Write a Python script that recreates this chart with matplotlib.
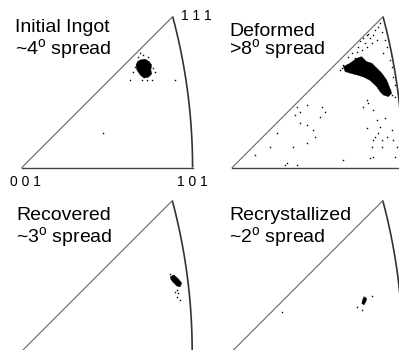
#Inverse pole figures (001-101-111 standard triangle) for four material states
import numpy as np
import matplotlib
matplotlib.use("Agg")
from matplotlib import pyplot as plt
from matplotlib.patches import Polygon

plt.rcParams['font.family'] = ['Liberation Sans', 'DejaVu Sans']
plt.rcParams['mathtext.fontset'] = 'custom'
plt.rcParams['mathtext.rm'] = 'Liberation Sans'

#Figure size in pixels and stereographic scale (px per projection unit)
W, H = 399, 350
SCALE = 412

#Corner labels of the standard triangle
corner_labels = ["0 0 1", "1 0 1", "1 1 1"]

#Panel titles
titles = ["Initial Ingot", "Deformed", "Recovered", "Recrystallized"]
spreads = ["~4", ">8", "~3", "~2"]

#Initial ingot: dense blob outline + stray points (projection coords)
ingot_blob_x = [0.287, 0.299, 0.309, 0.315, 0.313, 0.315, 0.307, 0.296, 0.287, 0.279, 0.277, 0.281]
ingot_blob_y = [0.261, 0.263, 0.257, 0.249, 0.237, 0.227, 0.219, 0.217, 0.225, 0.237, 0.249, 0.257]
ingot_dots_x = [0.287, 0.295, 0.283, 0.307, 0.275, 0.270, 0.303, 0.315, 0.262, 0.319, 0.372, 0.198, 0.291, 0.323]
ingot_dots_y = [0.277, 0.273, 0.269, 0.269, 0.245, 0.233, 0.212, 0.212, 0.212, 0.241, 0.212, 0.083, 0.212, 0.233]

#Deformed: elongated blob + lots of scattered points
deformed_blob_x = [0.270, 0.286, 0.302, 0.314, 0.326, 0.339, 0.351, 0.363, 0.375, 0.383,
                   0.387, 0.379, 0.367, 0.359, 0.351, 0.334, 0.318, 0.302, 0.286, 0.274]
deformed_blob_y = [0.245, 0.253, 0.265, 0.269, 0.257, 0.253, 0.241, 0.229, 0.212, 0.192,
                   0.180, 0.172, 0.176, 0.184, 0.196, 0.212, 0.220, 0.225, 0.229, 0.233]
deformed_dots_x = [0.310, 0.318, 0.326, 0.330, 0.334, 0.322, 0.306, 0.302, 0.290, 0.282,
                   0.270, 0.278, 0.266, 0.290, 0.298, 0.314, 0.326, 0.339, 0.342, 0.351,
                   0.347, 0.355, 0.359, 0.363, 0.371, 0.375, 0.367, 0.383, 0.387, 0.391,
                   0.395, 0.383, 0.375, 0.387, 0.395, 0.262,
                   0.157, 0.165, 0.152, 0.181, 0.217, 0.225, 0.213, 0.165, 0.181, 0.197,
                   0.201, 0.181, 0.148, 0.108, 0.092, 0.055, 0.132, 0.157, 0.128, 0.270,
                   0.326, 0.330, 0.342, 0.351, 0.359, 0.355, 0.347, 0.342, 0.363, 0.375,
                   0.387, 0.391, 0.339, 0.342, 0.334, 0.395, 0.399, 0.363, 0.371, 0.326,
                   0.318]
deformed_dots_y = [0.307, 0.315, 0.322, 0.325, 0.314, 0.301, 0.293, 0.281, 0.277, 0.269,
                   0.249, 0.245, 0.241, 0.257, 0.265, 0.285, 0.293, 0.301, 0.322, 0.309,
                   0.334, 0.342, 0.350, 0.330, 0.309, 0.293, 0.277, 0.261, 0.245, 0.220,
                   0.200, 0.188, 0.180, 0.176, 0.172, 0.237,
                   0.148, 0.135, 0.127, 0.152, 0.148, 0.135, 0.123, 0.107, 0.103, 0.091,
                   0.075, 0.059, 0.050, 0.083, 0.050, 0.030, 0.010, 0.006, 0.006, 0.018,
                   0.164, 0.156, 0.140, 0.115, 0.099, 0.083, 0.075, 0.067, 0.067, 0.075,
                   0.091, 0.067, 0.050, 0.026, 0.022, 0.026, 0.050, 0.050, 0.119, 0.095,
                   0.148]

#Recovered: small blob near the 101-111 edge
recovered_blob_x = [0.362, 0.370, 0.381, 0.389, 0.385, 0.377, 0.368, 0.362]
recovered_blob_y = [0.182, 0.186, 0.176, 0.166, 0.157, 0.159, 0.168, 0.176]
recovered_dots_x = [0.373, 0.381, 0.377, 0.385, 0.360, 0.377]
recovered_dots_y = [0.145, 0.141, 0.133, 0.125, 0.187, 0.149]

#Recrystallized: tight blob
recryst_blob_x = [0.320, 0.327, 0.325, 0.320, 0.315, 0.317]
recryst_blob_y = [0.133, 0.129, 0.121, 0.113, 0.117, 0.125]
recryst_dots_x = [0.341, 0.303, 0.315, 0.121]
recryst_dots_y = [0.135, 0.109, 0.101, 0.095]

#Where the 001 corner of each triangle sits in the image (px from left, px from top)
origins = [(21.9, 167.5), (232.2, 167.5), (21.5, 351.5), (232.0, 351.5)]

XLIM = (-0.06, 0.46)
YLIM = (-0.06, 0.42)


def make_axes(fig, ox, oy):
    """Put an axes so that data (0,0) lands on pixel (ox, oy)"""
    left = ox + XLIM[0] * SCALE
    bottom = oy - YLIM[0] * SCALE
    w = (XLIM[1] - XLIM[0]) * SCALE
    h = (YLIM[1] - YLIM[0]) * SCALE
    ax = fig.add_axes([left / W, (H - bottom) / H, w / W, h / H])
    ax.set_xlim(XLIM)
    ax.set_ylim(YLIM)
    ax.axis('off')
    return ax


def draw_triangle(ax):
    #great circle 101 -> 111, directions (1, t, 1)
    t = np.linspace(0, 1, 100)
    d = np.sqrt(2 + t**2) + 1
    ax.plot(1 / d, t / d, color='#333333', lw=1.2, solid_capstyle='butt')
    #001 -> 111 edge
    p111 = 1 / (np.sqrt(3) + 1)
    ax.plot([0, p111], [0, p111], color='#666666', lw=0.8)
    #001 -> 101 edge
    ax.plot([0, np.sqrt(2) - 1], [0, 0], color='#444444', lw=1.0)


def draw_data(ax, bx, by, dx, dy):
    ax.add_patch(Polygon(np.column_stack([bx, by]), closed=True,
                         facecolor='black', edgecolor='black', lw=0.3))
    ax.plot(dx, dy, linestyle='none', marker='s', markersize=1.0,
            markeredgewidth=0, color='black')


fig = plt.figure(figsize=(W / 100, H / 100), dpi=100)

panels = [(ingot_blob_x, ingot_blob_y, ingot_dots_x, ingot_dots_y),
          (deformed_blob_x, deformed_blob_y, deformed_dots_x, deformed_dots_y),
          (recovered_blob_x, recovered_blob_y, recovered_dots_x, recovered_dots_y),
          (recryst_blob_x, recryst_blob_y, recryst_dots_x, recryst_dots_y)]

for (ox, oy), data in zip(origins, panels):
    ax = make_axes(fig, ox, oy)
    draw_triangle(ax)
    draw_data(ax, *data)

#Titles: px position of the last baseline and line spacing
title_pos = [(15, 55, 1.05), (229, 55.5, 0.86), (16, 243, 1.1), (229, 243, 1.1)]
for (x, y2, ls), name, sp in zip(title_pos, titles, spreads):
    fig.text(x / W, 1 - y2 / H, name + "\n" + sp + r'$^{\rm o}$ spread',
             fontsize=14, va='baseline', linespacing=ls)

#Corner labels on the first triangle
label_pos = [(10, 186), (177, 186), (181, 20)]
for (x, y), lab in zip(label_pos, corner_labels):
    fig.text(x / W, 1 - y / H, lab, fontsize=10, va='baseline')

fig.savefig("out.png", dpi=100)
